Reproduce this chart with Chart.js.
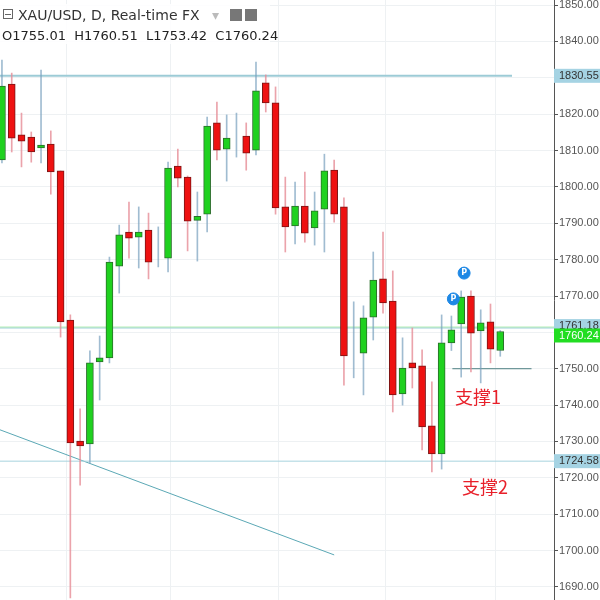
<!DOCTYPE html>
<html>
<head>
  <meta charset="UTF-8">
  <title>XAU/USD D</title>
  <script src="https://cdn.jsdelivr.net/npm/chart.js"></script>
  <style>
    html, body { margin: 0; padding: 0; background: #fff; }
    .chart-container { position: relative; width: 600px; height: 600px; }
  </style>
</head>
<body>
  <div class="chart-container">
    <canvas id="goldChart"></canvas>
  </div>

  <script>
    // OHLC harian
    const opens  = [1807.4,1828.3,1814.3,1813.7,1810.7,1811.8,1804.4,1763.4,1730.1,1729.3,1751.9,1753.0,1778.2,1787.6,1786.2,1788.1,1780.7,1780.4,1805.7,1802.7,1790.8,1792.5,1817.6,1810.4,1813.7,1814.0,1810.1,1828.6,1823.1,1794.5,1789.3,1794.7,1788.7,1793.9,1804.6,1794.5,1754.1,1754.3,1764.2,1774.7,1768.6,1743.1,1751.6,1750.8,1734.3,1726.6,1757.1,1762.3,1770.0,1760.4,1762.9,1755.01];
    const highs  = [1834.9,1831.3,1820.3,1815.1,1832.1,1815.4,1804.4,1764.8,1739.0,1754.9,1759.0,1780.7,1789.5,1795.8,1794.5,1792.8,1789.0,1806.8,1810.4,1803.0,1798.6,1819.2,1823.3,1819.8,1820.3,1817.6,1834.3,1830.8,1827.5,1802.7,1801.3,1804.1,1798.6,1809.0,1807.4,1797.0,1768.4,1767.3,1782.1,1787.6,1776.9,1758.5,1761.2,1755.2,1746.4,1764.8,1764.5,1771.4,1771.4,1766.2,1767.8,1760.51];
    const lows   = [1806.6,1809.6,1805.5,1806.8,1806.6,1798.0,1758.7,1687.0,1718.0,1724.0,1741.4,1751.6,1770.8,1780.4,1777.7,1774.7,1778.0,1776.6,1800.0,1782.4,1779.6,1787.6,1807.4,1801.6,1808.2,1804.6,1808.8,1820.6,1792.5,1782.1,1784.3,1784.8,1784.0,1782.1,1790.3,1745.5,1747.5,1742.8,1757.9,1765.3,1738.1,1740.0,1744.7,1727.7,1721.6,1722.4,1755.0,1747.7,1749.1,1746.1,1751.6,1753.42];
    const closes = [1827.7,1813.4,1812.6,1809.6,1811.5,1804.1,1762.9,1729.6,1728.8,1751.6,1753.0,1779.3,1786.8,1785.9,1787.6,1779.3,1780.7,1805.2,1802.4,1790.6,1791.9,1816.7,1810.1,1813.4,1813.7,1809.3,1826.4,1823.1,1794.2,1789.0,1794.7,1787.3,1793.4,1804.4,1792.5,1753.5,1754.1,1764.0,1774.4,1768.1,1742.8,1750.2,1750.2,1734.0,1726.6,1757.1,1760.7,1769.7,1759.8,1762.6,1755.4,1760.24];

    const priceTicks = [1690,1700,1710,1720,1730,1740,1750,1760,1770,1780,1790,1800,1810,1820,1830,1840,1850];
    const levelLines = [1830.55, 1761.18, 1724.58];
    const lastClose = 1760.24;
    const support1 = 1750.0;
    const trendStart = [-0.2, 1733.2];
    const trendEnd = [34.0, 1698.8];
    const pMarks = [[47.3, 1776.3], [46.2, 1769.2]];
    const vGrid = [6.6, 17.2, 28.3, 39.2, 50.5];

    const UP = '#1fd11f', DOWN = '#ee1111';
    const X_MIN = -0.2, X_MAX = 56.5;

    const bodies = opens.map((o, i) => ({ x: i, y: [o, closes[i]] }));
    const wicks = lows.map((l, i) => ({ x: i, y: [l, highs[i]] }));
    const isUp = opens.map((o, i) => closes[i] >= o);
    const bodyColors = isUp.map(u => u ? UP : DOWN);
    const bodyBorders = isUp.map(u => u ? '#2a6e2a' : '#7a1515');
    const wickColors = isUp.map(u => u ? 'rgba(120,160,190,0.7)' : 'rgba(230,140,150,0.8)');

    const hLine = (v, color, from, to, width) => ({
      type: 'line',
      data: [{ x: from, y: v }, { x: to, y: v }],
      borderColor: color, borderWidth: width || 1, pointRadius: 0, order: 5
    });

    // grid vertikal di bawah
    const underlay = {
      id: 'underlay',
      beforeDatasetsDraw(chart) {
        const c = chart.ctx, xs = chart.scales.x, a = chart.chartArea;
        c.save();
        c.strokeStyle = '#eef1f3';
        vGrid.forEach(v => {
          const x = Math.round(xs.getPixelForValue(v)) + 0.5;
          c.beginPath(); c.moveTo(x, a.top); c.lineTo(x, a.bottom); c.stroke();
        });
        c.restore();
      }
    };

    // label dan teks tambahan
    const overlay = {
      id: 'overlay',
      afterDraw(chart) {
        const c = chart.ctx, ys = chart.scales.y, xs = chart.scales.x;
        c.save();
        c.textBaseline = 'middle';
        c.font = '11px "Liberation Sans"';
        c.fillStyle = '#555';
        priceTicks.forEach(v => c.fillText(v.toFixed(2), 559, ys.getPixelForValue(v)));
        // label harga di sumbu kanan
        const tags = [[1830.55, '#a5d3e3', '#333'], [1761.18, '#a5d3e3', '#333'], [lastClose, '#22dd22', '#fff'], [1724.58, '#a5d3e3', '#333']];
        tags.forEach(([v, bg, fg], k) => {
          let y = ys.getPixelForValue(v);
          if (k === 2) y += 4;
          if (k === 1) y -= 2;
          c.fillStyle = bg;
          c.fillRect(554, y - 7, 46, 14);
          c.fillStyle = fg;
          c.fillText(v.toFixed(2), 559, y);
        });
        // P markers
        c.font = 'bold 8px "DejaVu Sans"';
        c.textAlign = 'center';
        c.fillStyle = '#fff';
        pMarks.forEach(([x, v]) => c.fillText('P', xs.getPixelForValue(x), ys.getPixelForValue(v)));
        // teks support
        c.textAlign = 'left';
        c.textBaseline = 'alphabetic';
        c.fillStyle = '#e8202a';
        c.font = '18px "Noto Sans CJK SC"';
        c.fillText('支撑1', 455, 404);
        c.fillText('支撑2', 462, 494);
        // header
        c.fillStyle = 'rgba(255,255,255,0.85)';
        c.fillRect(0, 4, 270, 40);
        c.fillStyle = '#333';
        c.font = '14px "DejaVu Sans"';
        c.fillText('XAU/USD, D, Real-time FX', 18, 20);
        c.strokeStyle = '#666';
        c.strokeRect(3.5, 9.5, 9, 9);
        c.beginPath(); c.moveTo(5, 14.5); c.lineTo(11, 14.5); c.stroke();
        c.fillStyle = '#bbb';
        c.fillText('▾', 212, 20);
        c.fillStyle = '#777';
        c.fillRect(230, 9, 12, 12);
        c.fillRect(245, 9, 12, 12);
        c.fillStyle = '#222';
        c.font = '13px "DejaVu Sans"';
        c.fillText('O1755.01  H1760.51  L1753.42  C1760.24', 2, 40);
        c.restore();
      }
    };

    const ctx = document.getElementById('goldChart').getContext('2d');
    new Chart(ctx, {
      data: {
        datasets: [
          { type: 'bar', data: wicks, backgroundColor: wickColors, barThickness: 1, grouped: false, order: 3 },
          { type: 'bar', data: bodies, backgroundColor: bodyColors, borderColor: bodyBorders, borderWidth: 1, borderSkipped: false, barThickness: 7, grouped: false, order: 1 },
          hLine(levelLines[0], '#9ccbd6', X_MIN, 52.2, 2),
          hLine(levelLines[1], '#a8d4de', X_MIN, X_MAX),
          hLine(lastClose + 1.2, '#9be89b', X_MIN, X_MAX),
          hLine(levelLines[2], '#a8d4de', X_MIN, X_MAX),
          hLine(support1, '#4e7f82', 46.1, 54.2),
          { type: 'line', data: [{ x: trendStart[0], y: trendStart[1] }, { x: trendEnd[0], y: trendEnd[1] }], borderColor: '#5ba8b5', borderWidth: 1, pointRadius: 0, order: 5 },
          { type: 'scatter', data: pMarks.map(([x, y]) => ({ x, y })), pointRadius: 6, pointBackgroundColor: '#1e88e5', pointBorderColor: '#1e88e5', order: 0 }
        ]
      },
      options: {
        responsive: true,
        maintainAspectRatio: false,
        animation: false,
        layout: { padding: 0, autoPadding: false },
        plugins: { legend: { display: false }, tooltip: { enabled: false } },
        scales: {
          x: { type: 'linear', min: X_MIN, max: X_MAX, offset: false, display: false },
          y: {
            position: 'right', min: 1686.4, max: 1851.4,
            afterBuildTicks(axis) { axis.ticks = priceTicks.map(v => ({ value: v })); },
            afterFit(axis) { axis.width = 46; },
            ticks: { display: false },
            grid: { color: '#eef1f3', tickLength: 4, tickColor: '#555' },
            border: { color: '#555' }
          }
        }
      },
      plugins: [underlay, overlay]
    });
  </script>
</body>
</html>
